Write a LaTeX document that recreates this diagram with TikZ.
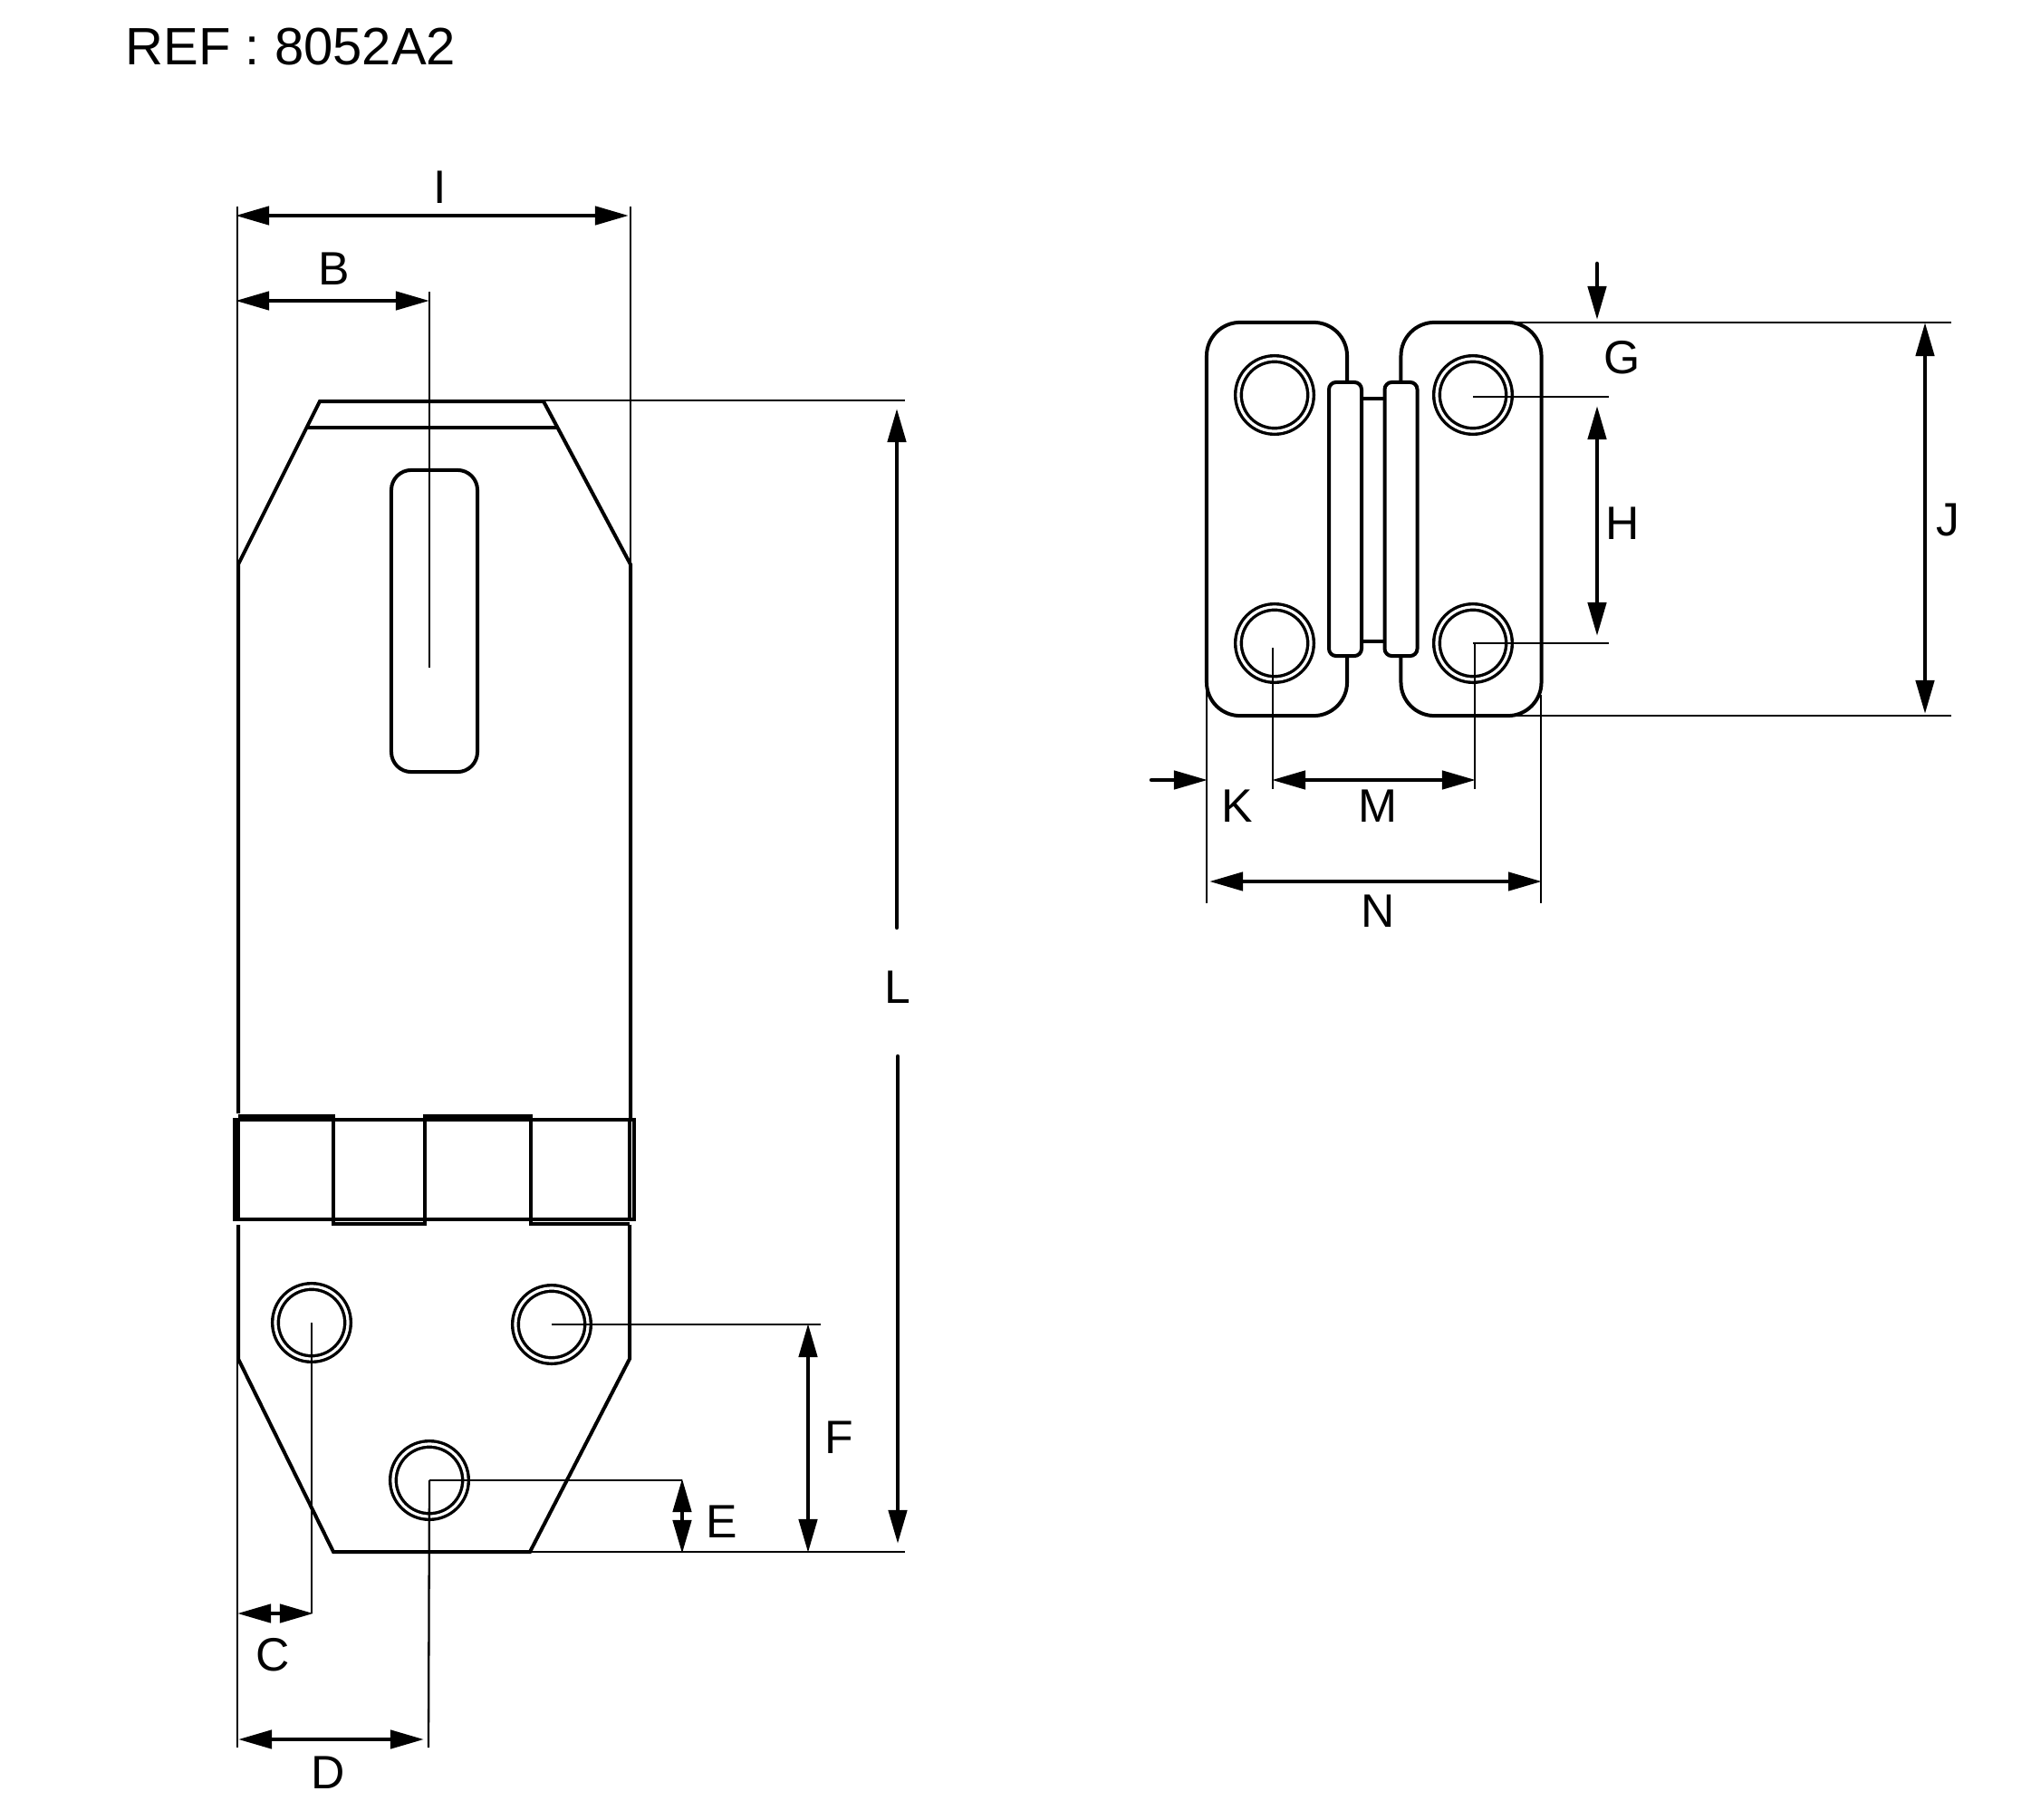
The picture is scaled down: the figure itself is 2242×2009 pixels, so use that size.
\documentclass[tikz,border=0pt]{standalone}
\usepackage{fontspec}
\setmainfont{Liberation Sans}
\usetikzlibrary{arrows.meta}
\tikzset{
  outline/.style={line width=.04cm,black,line join=miter},
  extline/.style={line width=.023cm,black},
  dimarrow/.style={line width=.045cm,black,shorten <=-.02cm,shorten >=-.02cm,{Triangle[length=.37cm,width=.2cm]}-{Triangle[length=.37cm,width=.2cm]}},
  onearrow/.style={line width=.045cm,black,line cap=round,shorten >=-.02cm,-{Triangle[length=.37cm,width=.2cm]}},
  hole/.style={circle,draw,line width=.034cm,double,double distance=.032cm,minimum size=.8cm,inner sep=0pt},
  plate/.style={rectangle,draw,outline,rounded corners=.37cm,minimum width=1.55cm,minimum height=4.34cm,inner sep=0pt},
  barrel/.style={rectangle,draw,outline,fill=white,rounded corners=.08cm,minimum width=.36cm,minimum height=3.02cm,inner sep=0pt},
  slotbox/.style={rectangle,draw,outline,rounded corners=.22cm,minimum width=.95cm,minimum height=3.33cm,inner sep=0pt},
  dimlabel/.style={font=\fontsize{14.7}{16}\selectfont,inner sep=0pt}
}
\begin{document}
\begin{tikzpicture}
  [x=.01cm,y=-.01cm]
\useasboundingbox (0,0) rectangle (2242,2009);
\node (ref)[font=\fontsize{16.5}{18}\selectfont,inner sep=0pt,anchor=west] at (138,52) {REF : 8052A2};

% hasp
\draw[outline] (263,1229) -- (263,623) -- (353,443) -- (600,443) -- (696,623) -- (696,1236);
\draw[outline] (338,472) -- (617,472);
\draw[outline] (263,1352) -- (263,1500) -- (368,1713) -- (585,1713) -- (695,1500) -- (695,1352);
\node (slot)[slotbox] at (479.5,685.5) {};
\draw[outline] (259,1236) rectangle (700,1346);
\fill[black] (259,1234) rectangle (265,1348);
\draw[outline] (695,1236) -- (695,1346);
\draw[outline] (263,1232) -- (368,1232) -- (368,1351) -- (469,1351) -- (469,1232)
  -- (586,1232) -- (586,1351) -- (695,1351);
\node (h1)[hole] at (344,1460) {};
\node (h2)[hole] at (609,1462) {};
\node (h3)[hole] at (474,1634) {};

% staple
\node (plateL)[plate] at (1409.5,573) {};
\node (plateR)[plate] at (1624,573) {};
\node (barrelL)[barrel] at (1485,573) {};
\node (barrelR)[barrel] at (1546.5,573) {};
\coordinate (wT) at (1516,440);
\coordinate (wB) at (1516,708);
\draw[outline] (barrelL.east |- wT) -- (barrelR.west |- wT);
\draw[outline] (barrelL.east |- wB) -- (barrelR.west |- wB);
\node (h4)[hole] at (1407,436) {};
\node (h5)[hole] at (1626,436) {};
\node (h6)[hole] at (1407,710) {};
\node (h7)[hole] at (1626,710) {};

% extension lines
\coordinate (iLt) at (262,228);   \coordinate (iLb) at (262,737);
\coordinate (iRt) at (696,228);   \coordinate (iRb) at (696,623);
\coordinate (bT) at (474,322);    \coordinate (bB) at (474,737);
\coordinate (lL) at (600,442);    \coordinate (lR) at (999,442);
\coordinate (zL) at (585,1713);   \coordinate (zR) at (999,1713);
\coordinate (dLt) at (262,1500);  \coordinate (dLb) at (262,1929);
\coordinate (cB) at (344,1781);   \coordinate (dB) at (473,1929);
\coordinate (fR) at (906,1462);   \coordinate (eR) at (753,1634);
\coordinate (jTl) at (1667,356);  \coordinate (jTr) at (2154,356);
\coordinate (jBl) at (1670,790);  \coordinate (jBr) at (2154,790);
\coordinate (hTl) at (1626,438);  \coordinate (hTr) at (1776,438);
\coordinate (hBr) at (1776,710);
\coordinate (kT) at (1332,760);   \coordinate (kB) at (1332,997);
\coordinate (nT) at (1701,767);   \coordinate (nB) at (1701,997);
\coordinate (mLt) at (1405,715);  \coordinate (mLb) at (1405,871);
\coordinate (mRt) at (1628,710);  \coordinate (mRb) at (1628,871);
\foreach \from/\to in {iLt/iLb,iRt/iRb,bT/bB,lL/lR,zL/zR,dLt/dLb,h1.center/cB,h3.center/dB,
    h2.center/fR,h3.center/eR,jTl/jTr,jBl/jBr,hTl/hTr,h7.center/hBr,kT/kB,nT/nB,mLt/mLb,mRt/mRb}
   \draw[extline] (\from) -- (\to);

% dimension arrows
\coordinate (aI1) at (262,238);   \coordinate (aI2) at (692,238);
\coordinate (aB1) at (262,332);   \coordinate (aB2) at (472,332);
\coordinate (aC1) at (264,1781);  \coordinate (aC2) at (344,1781);
\coordinate (aD1) at (265,1920);  \coordinate (aD2) at (466,1920);
\coordinate (aE1) at (753,1634);  \coordinate (aE2) at (753,1713);
\coordinate (aF1) at (892,1463);  \coordinate (aF2) at (892,1712);
\coordinate (aH1) at (1763,450);  \coordinate (aH2) at (1763,700);
\coordinate (aJ1) at (2125,358);  \coordinate (aJ2) at (2125,786);
\coordinate (aM1) at (1406,861);  \coordinate (aM2) at (1627,861);
\coordinate (aN1) at (1337,973);  \coordinate (aN2) at (1700,973);
\foreach \from/\to in {aI1/aI2,aB1/aB2,aC1/aC2,aD1/aD2,aE1/aE2,aF1/aF2,aH1/aH2,aJ1/aJ2,aM1/aM2,aN1/aN2}
   \draw[dimarrow] (\from) -- (\to);
\coordinate (gA) at (1763,291);   \coordinate (gB) at (1763,351);
\coordinate (kA) at (1271,861);   \coordinate (kC) at (1331,861);
\coordinate (lA) at (990,1024);   \coordinate (lB) at (990,453);
\coordinate (lC) at (991,1166);   \coordinate (lD) at (991,1702);
\foreach \from/\to in {gA/gB,kA/kC,lA/lB,lC/lD}
   \draw[onearrow] (\from) -- (\to);

% labels
\node (labI)[dimlabel] at (486,206.5) {I};
\node (labB)[dimlabel] at (369,296.5) {B};
\node (labC)[dimlabel] at (301,1827) {C};
\node (labD)[dimlabel] at (362,1957) {D};
\node (labE)[dimlabel] at (797,1680) {E};
\node (labF)[dimlabel] at (926,1587) {F};
\node (labG)[dimlabel] at (1791,394.5) {G};
\node (labH)[dimlabel] at (1791,577.5) {H};
\node (labJ)[dimlabel] at (2150,573.5) {J};
\node (labK)[dimlabel] at (1366,890) {K};
\node (labL)[dimlabel] at (991,1090) {L};
\node (labM)[dimlabel] at (1521,890) {M};
\node (labN)[dimlabel] at (1521,1006) {N};
\end{tikzpicture}
\end{document}
